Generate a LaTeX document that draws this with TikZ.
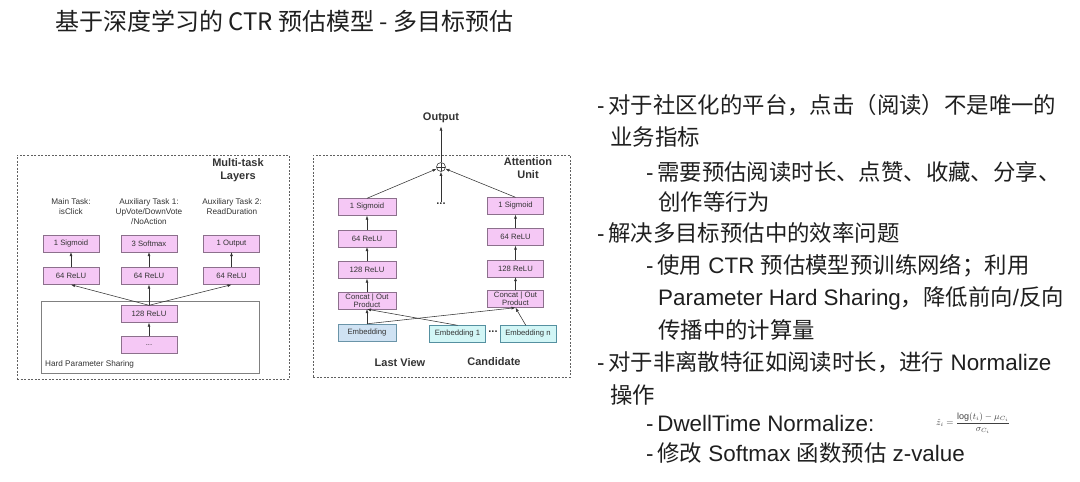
\documentclass[tikz,border=0pt]{standalone}
\usepackage{amsmath}
\usepackage{fontspec}
\setmainfont{Liberation Sans}
\newfontfamily\cjk{Noto Sans CJK SC}
\usetikzlibrary{arrows.meta,positioning}
\definecolor{boxpink}{HTML}{F5C8F5}
\definecolor{boxline}{HTML}{8C708C}
\definecolor{embblue}{HTML}{CFE2F3}
\definecolor{embcyan}{HTML}{D2F6F6}
\definecolor{embline}{HTML}{6A94A8}
\definecolor{inktext}{HTML}{333333}
\definecolor{frameline}{HTML}{606060}

\begin{document}
\begin{tikzpicture}[x=1pt, y=-1pt,
    box/.style={draw=boxline, fill=boxpink, minimum width=56pt, minimum height=17pt, inner sep=0.5pt, font=\fontsize{7.7}{8}\selectfont, text=inktext, align=center},
    dashframe/.style={draw=frameline, dash pattern=on 2pt off 1.5pt, line width=0.6pt, inner sep=0},
    arr/.style={-{Latex[length=4pt,width=3pt]}, draw=inktext, line width=0.55pt},
    head/.style={font=\fontsize{11}{13.5}\selectfont\bfseries, text=inktext, align=center},
    lbl/.style={font=\fontsize{8.2}{10}\selectfont, text=inktext, align=center},
    txtline/.style={anchor=base west, inner sep=0, font=\fontsize{22.4}{26}\selectfont, text=black!88}
]
\useasboundingbox (0,0) rectangle (1080,482);

% title
\node[anchor=west, inner sep=0, font=\cjk\fontsize{24}{28}\selectfont, text=black!88] (title) at (55,21) {基于深度学习的 CTR 预估模型 - 多目标预估};

% multi-task layers
\node[dashframe, minimum width=272pt, minimum height=224pt] (mtlframe) at (153,267) {};
\node[head] (mtlhead) at (238,170) {Multi-task\\Layers};
\node[draw=black!50, line width=0.5pt, minimum width=218pt, minimum height=72pt] (hps) at (150,337) {};
\node[anchor=west, lbl, inner sep=0] (hpslbl) at (45,364) {Hard Parameter Sharing};

\node[lbl] (task0) at (71,207) {Main Task:\\isClick};
\node[lbl] (task1) at (149,212) {Auxiliary Task 1:\\UpVote/DownVote\\/NoAction};
\node[lbl] (task2) at (232,207) {Auxiliary Task 2:\\ReadDuration};

\node[box] (sig) at (71,243.5) {1 Sigmoid};
\node[box] (smax) at (149,243.5) {3 Softmax};
\node[box] (outone) at (231.5,243.5) {1 Output};
\node[box] (reluA) at (71,276) {64 ReLU};
\node[box] (reluB) at (149,276) {64 ReLU};
\node[box] (reluC) at (231.5,276) {64 ReLU};
\node[box] (shared) at (149,314) {128 ReLU};
\node[box] (below) at (149,345) {...};

\draw[arr] (below) -- (shared);
\draw[arr] (shared.north) -- (reluA.south);
\draw[arr] (shared.north) -- (reluB.south);
\draw[arr] (shared.north) -- (reluC.south);
\draw[arr] (reluA) -- (sig);
\draw[arr] (reluB) -- (smax);
\draw[arr] (reluC) -- (outone);

% attention unit
\node[dashframe, minimum width=257pt, minimum height=222pt] (attframe) at (441.5,266) {};
\node[head] (atthead) at (528,168) {Attention\\Unit};
\node[head] (output) at (441,118) {Output};
\node[circle, draw=inktext, line width=0.55pt, minimum size=9pt, inner sep=0,
      path picture={\draw[inktext, line width=0.5pt] (path picture bounding box.north) -- (path picture bounding box.south)
                    (path picture bounding box.west) -- (path picture bounding box.east);}] (plus) at (441,167) {};
\node[font=\fontsize{11}{11}\selectfont\bfseries, text=inktext, inner sep=1pt] (middots) at (441,204) {...};

\node[box, minimum width=58pt] (sigL) at (367,207) {1 Sigmoid};
\node[box, minimum width=58pt] (reluL) at (367,238.5) {64 ReLU};
\node[box, minimum width=58pt] (wideL) at (367,270) {128 ReLU};
\node[box, minimum width=58pt] (catL) at (367,300.5) {Concat | Out\\Product};
\node[box, minimum width=58pt, fill=embblue, draw=embline] (embL) at (367,332.5) {Embedding};

\node[box] (sigR) at (515.5,206) {1 Sigmoid};
\node[box] (reluR) at (515.5,237) {64 ReLU};
\node[box] (wideR) at (515.5,268.5) {128 ReLU};
\node[box] (catR) at (515.5,299) {Concat | Out\\Product};
\node[box, fill=embcyan, draw=embline!80!teal] (embone) at (457.5,334) {Embedding 1};
\node[box, fill=embcyan, draw=embline!80!teal] (embn) at (528,334) {Embedding n};
\node[font=\fontsize{11}{11}\selectfont\bfseries, text=inktext, inner sep=0] (embdots) at (493,332) {...};

\node[head] (lastview) at (400,363) {Last View};
\node[head] (cand) at (494,362) {Candidate};

\draw[arr] (plus) -- (output);
\draw[arr] (sigL.north) -- (plus);
\draw[arr] (sigR.north) -- (plus);
\draw[arr] (middots) -- (plus);
\draw[arr] (reluL) -- (sigL);
\draw[arr] (wideL) -- (reluL);
\draw[arr] (catL) -- (wideL);
\draw[arr] (embL) -- (catL);
\draw[arr] (reluR) -- (sigR);
\draw[arr] (wideR) -- (reluR);
\draw[arr] (catR) -- (wideR);
\draw[arr] (embone.north) -- (catL.south);
\draw[arr] (embL.north) -- (catR.south);
\draw[arr] (embn.north west) ++(26pt,0) coordinate (embnTop) (embnTop) -- (catR.south);

% right text
\node[txtline] (t1) at (597,113) {-\,{\cjk 对于社区化的平台，点击（阅读）不是唯一的}};
\node[txtline] (t2) at (610,145) {{\cjk 业务指标}};
\node[txtline] (t3) at (646,180) {-\,{\cjk 需要预估阅读时长、点赞、收藏、分享、}};
\node[txtline] (t4) at (658,210) {{\cjk 创作等行为}};
\node[txtline] (t5) at (597,241) {-\,{\cjk 解决多目标预估中的效率问题}};
\node[txtline] (t6) at (646,273) {-\,{\cjk 使用} CTR {\cjk 预估模型预训练网络；利用}};
\node[txtline] (t7) at (658,305) {Parameter Hard Sharing{\cjk ，降低前向}/{\cjk 反向}};
\node[txtline] (t8) at (658,338) {{\cjk 传播中的计算量}};
\node[txtline] (t9) at (597,370) {-\,{\cjk 对于非离散特征如阅读时长，进行} Normalize};
\node[txtline] (t10) at (610,403) {{\cjk 操作}};
\node[txtline] (t11) at (646,431) {-\,DwellTime Normalize:};
\node[anchor=west, inner sep=0, font=\fontsize{9}{10}\selectfont, text=black!75] (fml) at (936,423) {$\hat{z}_i=\dfrac{\log(t_i)-\mu_{C_i}}{\sigma_{C_i}}$};
\node[txtline] (t12) at (646,461) {-\,{\cjk 修改} Softmax {\cjk 函数预估} z-value};
\end{tikzpicture}
\end{document}
